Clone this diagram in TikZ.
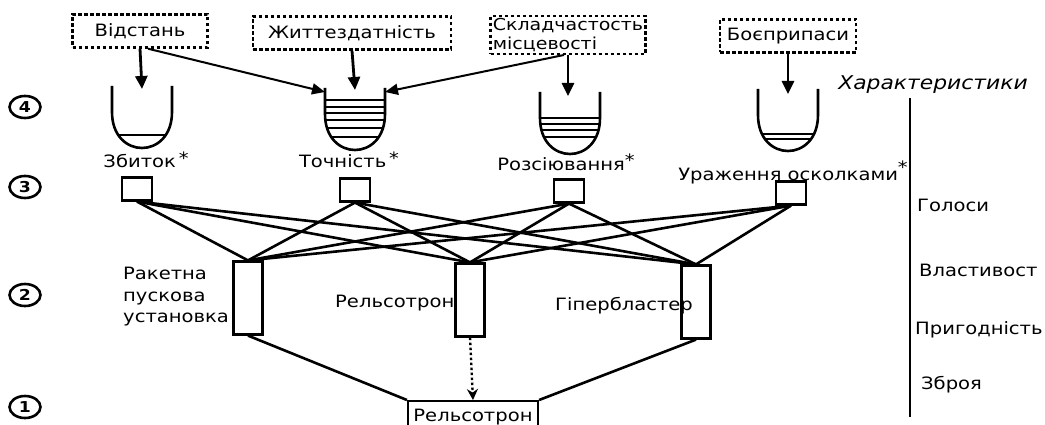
\documentclass[tikz,border=0pt]{standalone}
\usepackage{fontspec}
\setmainfont[FakeStretch=1.15]{DejaVu Sans}
\usetikzlibrary{arrows.meta,shapes.geometric}

\tikzset{
  factor/.style={draw,dash pattern=on 3.5pt off 2.5pt,line width=2.4pt,minimum height=33pt,inner sep=2pt},
  crit/.style={draw,line width=2.2pt,minimum width=30pt,minimum height=23pt,inner sep=0pt},
  alt/.style={draw,line width=2.2pt,minimum width=29pt,minimum height=73pt,inner sep=0pt},
  lvl/.style={draw,ellipse,line width=2.6pt,minimum width=31pt,minimum height=22pt,inner sep=0pt,font=\fontsize{15}{15}\selectfont\bfseries},
  feed/.style={-{Triangle[length=13pt,width=12pt]},line width=2.8pt},
  side/.style={-{Triangle[length=13pt,width=11pt]},line width=2pt},
  link/.style={line width=2.6pt},
  tag/.style={inner sep=0pt},
}

% cup: centre x, top y, fill lines
\newcommand{\cupshape}[3]{%
  \begin{scope}
    \clip (#1-30,#2) -- (#1-30,#2+26) .. controls (#1-30,#2+74) and (#1+30,#2+74) .. (#1+30,#2+26) -- (#1+30,#2) -- cycle;
    \foreach \yy in {#3} \draw[line width=2pt] (#1-32,\yy) -- (#1+32,\yy);
  \end{scope}
  \draw[line width=2.6pt] (#1-30,#2) -- (#1-30,#2+26) .. controls (#1-30,#2+74) and (#1+30,#2+74) .. (#1+30,#2+26) -- (#1+30,#2);
}

\begin{document}
\begin{tikzpicture}[x=1pt,y=-1pt,font=\fontsize{17}{21.5}\selectfont]
  \useasboundingbox (0,0) rectangle (1045,425);

  % factors
  \node[factor,minimum width=135pt] (vid) at (140,31) {Відстань};
  \node[factor,minimum width=198pt] (zhyt) at (352,33) {Життездатність};
  \node[factor,minimum width=155pt,align=left,font=\fontsize{16.5}{19}\selectfont] (skl) at (568,35) {Складчастость\\місцевості};
  \node[factor,minimum width=136pt] (boe) at (788,36) {Боєприпаси};

  % characteristics
  \cupshape{142}{86}{135}
  \cupshape{355}{88}{100,107,113,120,128,137}
  \cupshape{570}{92}{118,124,130,137}
  \cupshape{788}{89}{134,139}
  \coordinate (cup1) at (142,89);
  \coordinate (cup2) at (355,90);
  \coordinate (cup2l) at (325,92);
  \coordinate (cup2r) at (385,92);
  \coordinate (cup3) at (568,96);
  \coordinate (cup4) at (788,94);

  \draw[feed] (vid.south) -- (cup1);
  \draw[side] ([xshift=8pt]vid.south) -- (cup2l);
  \draw[feed] (zhyt.south) -- (cup2);
  \draw[feed] (skl.south) -- (cup3);
  \draw[side] ([xshift=-4pt]skl.south) -- (cup2r);
  \draw[feed] (boe.south) -- (cup4);

  % criteria
  \node[tag] (l1) at (146,160) {Збиток\,\raisebox{3pt}{*}};
  \node[tag] (l2) at (349,160) {Точність\,\raisebox{3pt}{*}};
  \node[tag] (l3) at (566,162) {Розсіювання\raisebox{4pt}{*}};
  \node[tag] (l4) at (793,172) {Ураження осколками\raisebox{7pt}{*}};

  \node[crit] (s1) at (137,189) {};
  \node[crit] (s2) at (355,190) {};
  \node[crit] (s3) at (569,191) {};
  \node[crit] (s4) at (791,193) {};

  % alternatives
  \node[alt] (r1) at (248,298) {};
  \node[alt] (r2) at (470,300) {};
  \node[alt] (r3) at (696,302) {};

  \foreach \s in {s1,s2,s3,s4}
    \foreach \r in {r1,r2,r3}
      \draw[link] (\s.south) -- (\r.north);

  \node[tag,anchor=west,align=left] (t1) at (123,297) {Ракетна\\пускова\\установка};
  \node[tag,anchor=west] (t2) at (335,303) {Рельсотрон};
  \node[tag,anchor=west] (t3) at (555,306) {Гіпербластер};

  % goal
  \node[draw,line width=2.2pt,minimum width=130pt,minimum height=32pt,anchor=north] (rb) at (473,400) {Рельсотрон};
  \draw[link] (r1.south) -- (rb.north west);
  \draw[link] (r3.south) -- (rb.north east);
  \draw[-{Stealth[length=11pt,width=11pt]},line width=2.4pt,dash pattern=on 2.5pt off 2.5pt] (r2.south) -- (rb.north);

  % levels
  \node[lvl] (n4) at (25,107) {4};
  \node[lvl] (n3) at (25,187) {3};
  \node[lvl] (n2) at (25,295) {2};
  \node[lvl] (n1) at (25,407) {1};

  % right scale
  \node[tag,font=\fontsize{19}{19}\selectfont\itshape] (kh) at (933,85) {Характеристики};
  \coordinate (axtop) at (910,98);
  \coordinate (axbot) at (910,417);
  \draw[line width=2.4pt] (axtop) -- (axbot);
  \node[tag,anchor=west] (g1) at (917,205) {Голоси};
  \node[tag,anchor=west] (g2) at (919,270) {Властивост};
  \node[tag,anchor=west] (g3) at (915,330) {Пригодність};
  \node[tag,anchor=west] (g4) at (921,385) {Зброя};
\end{tikzpicture}
\end{document}
